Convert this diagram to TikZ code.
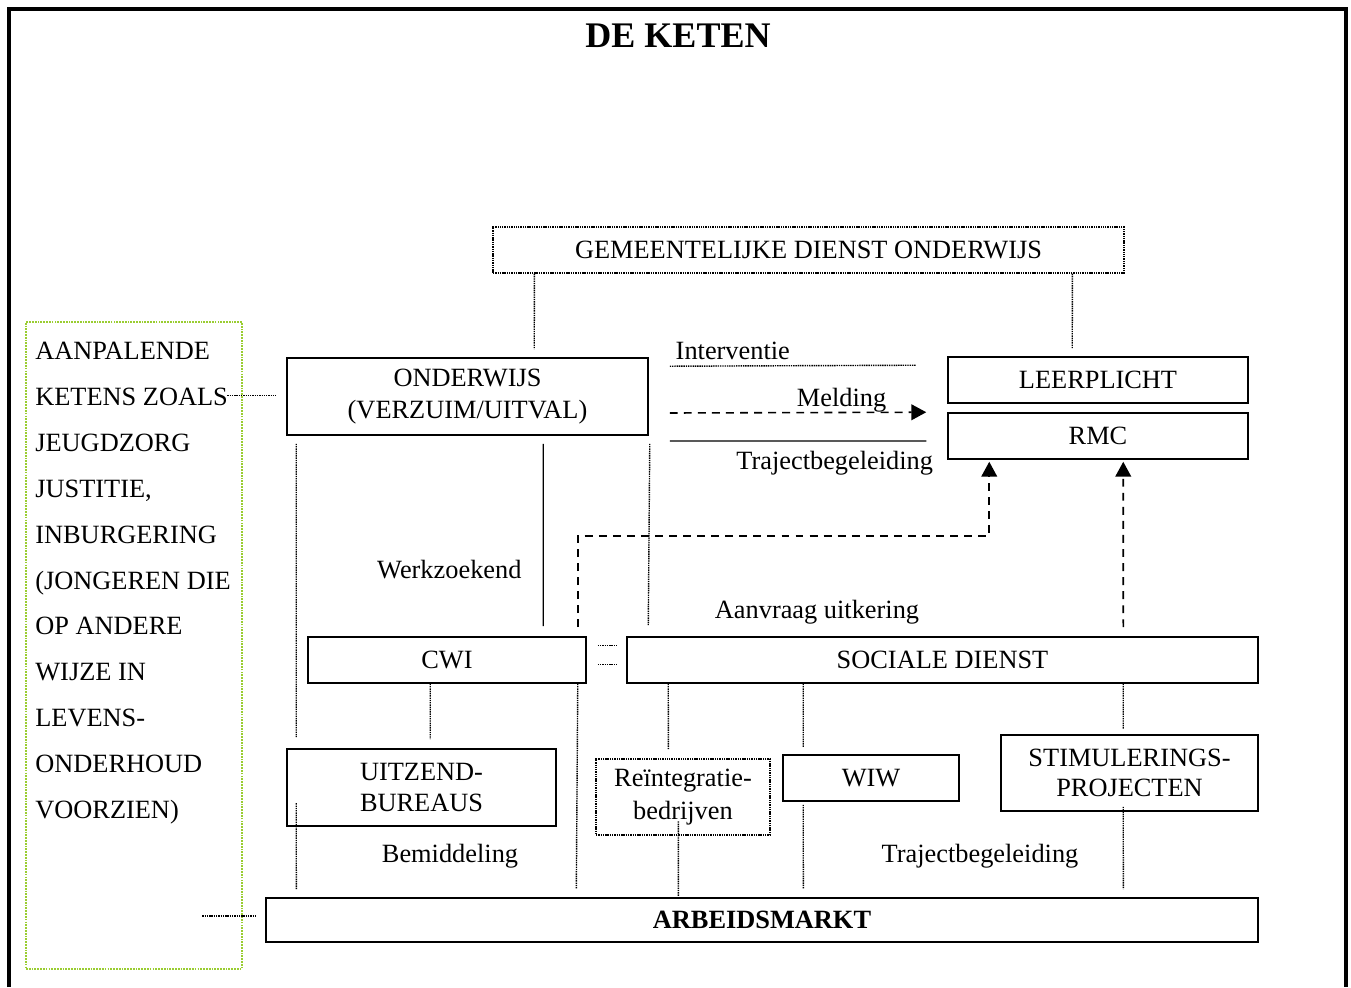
\documentclass[tikz,border=0pt]{standalone}
\usepackage{fontspec}
\setmainfont{Liberation Serif}
\usetikzlibrary{arrows.meta}

\definecolor{ketengreen}{HTML}{9ACD32}

\tikzset{
  box/.style={draw, line width=0.9pt, inner sep=0pt, align=center},
  dotbox/.style={draw, dash pattern=on 0.8pt off 0.5pt, line width=0.8pt, inner sep=0pt, align=center},
  greenbox/.style={draw=ketengreen, dash pattern=on 1pt off 0.6pt, line width=1.2pt, inner sep=0pt},
  dotline/.style={dash pattern=on 0.8pt off 0.5pt, line width=0.8pt},
  dashline/.style={dash pattern=on 4.5pt off 3.5pt, line width=0.9pt},
  pijl/.style={-{Triangle[length=8.5pt,width=9pt]}},
  lbl/.style={inner sep=2pt},
}

\begin{document}
\begin{tikzpicture}[x=0.02cm, y=-0.02cm, font=\fontsize{15}{17.5}\selectfont]
  \useasboundingbox (0,0) rectangle (1351,987);
  % page frame
  \draw[line width=1.9pt] (9,987) -- (9,9) -- (1346,9) -- (1346,987);

  \node[font=\fontsize{20.5}{24}\selectfont\bfseries] (titel) at (678,36) {DE KETEN};

  % boxes
  \node[dotbox, minimum width=12.62cm, minimum height=0.92cm] (gdo) at (808.5,250) {GEMEENTELIJKE DIENST ONDERWIJS};
  \node[box, minimum width=7.22cm, minimum height=1.54cm, font=\fontsize{15}{18.5}\selectfont] (onderwijs) at (467.5,396.5) {ONDERWIJS\\(VERZUIM/UITVAL)};
  \node[box, minimum width=6cm, minimum height=0.92cm] (leerplicht) at (1098,380) {LEERPLICHT};
  \node[box, minimum width=6cm, minimum height=0.92cm] (rmc) at (1098,436) {RMC};
  \node[box, minimum width=5.56cm, minimum height=0.92cm] (cwi) at (447,660) {CWI};
  \node[box, minimum width=12.62cm, minimum height=0.92cm] (sociale) at (942.5,660) {SOCIALE DIENST};
  \node[box, minimum width=5.38cm, minimum height=1.54cm] (uitzend) at (421.5,787.5) {UITZEND-\\BUREAUS};
  \node[dotbox, minimum width=3.48cm, minimum height=1.52cm, font=\fontsize{15}{18.5}\selectfont] (reint) at (683,797) {Re\"{\i}ntegratie-\\bedrijven};
  \node[box, minimum width=3.52cm, minimum height=0.92cm] (wiw) at (871,778) {WIW};
  \node[box, minimum width=5.14cm, minimum height=1.52cm] (stim) at (1129.5,773) {STIMULERINGS-\\PROJECTEN};
  \node[box, minimum width=19.84cm, minimum height=0.88cm, font=\fontsize{15}{17.5}\selectfont\bfseries] (arbeid) at (762,920) {ARBEIDSMARKT};

  % aanpalende ketens
  \node[greenbox, minimum width=4.32cm, minimum height=12.94cm] (groen) at (134,645.5) {};
  \node[anchor=north west, inner sep=0pt, align=left, font=\fontsize{15}{26.1}\selectfont] (ketens) at (35,342)
    {AANPALENDE\\KETENS ZOALS\\JEUGDZORG\\JUSTITIE,\\INBURGERING\\(JONGEREN DIE\\OP ANDERE\\WIJZE IN\\LEVENS-\\ONDERHOUD\\VOORZIEN)};

  % connectors
  \draw[dotline] ([shift={(42,0)}]gdo.south west) -- ([shift={(248,-8)}]onderwijs.north west);
  \draw[dotline] ([shift={(580,0)}]gdo.south west) -- ([shift={(125,-8)}]leerplicht.north west);
  \draw[dotline] ([shift={(-59,-1)}]onderwijs.west) -- ([shift={(-11,-1)}]onderwijs.west);

  \draw[dotline] ([shift={(21,9)}]onderwijs.north east) -- ([shift={(-31,9)}]leerplicht.north west)
    node[lbl, pos=0, anchor=south west, xshift=1pt, yshift=1pt] {Interventie};
  \draw[dashline, pijl] ([shift={(21,16.5)}]onderwijs.east) -- ([shift={(-21,0)}]rmc.north west)
    node[lbl, pos=0.67, above, inner sep=0pt] {Melding};
  \draw[line width=0.8pt] ([shift={(21,44.5)}]onderwijs.east) -- ([shift={(-21,5)}]rmc.west)
    node[lbl, pos=0.643, below, inner sep=5.5pt] {Trajectbegeleiding};

  \draw[dotline] ([shift={(10,8)}]onderwijs.south west) -- ([shift={(10,-11)}]uitzend.north west);
  \draw[line width=0.8pt] ([shift={(257,8)}]onderwijs.south west) -- ([shift={(236,-10)}]cwi.north west)
    node[lbl, pos=0.69, left=10pt] {Werkzoekend};
  \draw[dotline] ([shift={(1,8)}]onderwijs.south east) -- ([shift={(22,-11)}]sociale.north west);

  \draw[dashline, pijl] ([shift={(-9,-9)}]cwi.north east) |- ([shift={(42,76)}]rmc.south west) -- ([shift={(42,2)}]rmc.south west);
  \draw[dashline, pijl] ([shift={(497,-9)}]sociale.north west) -- ([shift={(176,2)}]rmc.south west);
  \node[lbl] (aanvraag) at (817,612) {Aanvraag uitkering};

  \draw[dotline] ([shift={(11,9)}]cwi.north east) -- ([shift={(-9,9)}]sociale.north west);
  \draw[dotline] ([shift={(11,28)}]cwi.north east) -- ([shift={(-9,28)}]sociale.north west);

  \draw[dotline] ([shift={(123,0)}]cwi.south west) -- ([shift={(144,-9)}]uitzend.north west);
  \draw[dotline] ([shift={(-9,0)}]cwi.south east) -- ([shift={(311,-8)}]arbeid.north west);
  \draw[dotline] ([shift={(42,0)}]sociale.south west) -- ([shift={(73,-9)}]reint.north west);
  \draw[dotline] ([shift={(177,0)}]sociale.south west) -- ([shift={(21,-7)}]wiw.north west);
  \draw[dotline] ([shift={(497,0)}]sociale.south west) -- ([shift={(123,-5)}]stim.north west);

  \draw[dotline] ([shift={(10,55)}]uitzend.north west) -- ([shift={(31,-8)}]arbeid.north west);
  \draw[dotline] ([shift={(83,63)}]reint.north west) -- ([shift={(413,-1)}]arbeid.north west);
  \draw[dotline] ([shift={(21,3)}]wiw.south west) -- ([shift={(538,-8)}]arbeid.north west);
  \draw[dotline] ([shift={(123,-5)}]stim.south west) -- ([shift={(858,-8)}]arbeid.north west);
  \draw[dotline] ([shift={(-63,-4)}]arbeid.west) -- ([shift={(-9,-4)}]arbeid.west);

  \node[lbl] (bemiddeling) at (450,856) {Bemiddeling};
  \node[lbl] (traject) at (980,856) {Trajectbegeleiding};
\end{tikzpicture}
\end{document}
